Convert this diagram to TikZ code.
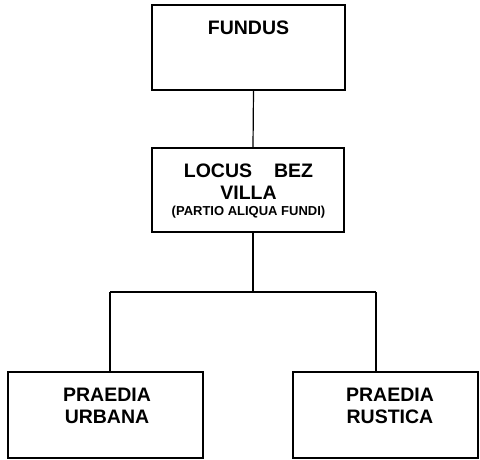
\documentclass[tikz,border=0pt]{standalone}
\usepackage{fontspec}
\setmainfont{Liberation Sans}
\usetikzlibrary{positioning}
\tikzset{
	box/.style={draw, line width=1.2pt, inner sep=0pt},
	lbl/.style={font=\fontsize{19.5}{22}\selectfont\bfseries, align=center, inner sep=0pt}
}
\begin{document}
\begin{tikzpicture}[x=1pt,y=1pt]
	\useasboundingbox (0,0) rectangle (480,-459);
	% boxes
	\node[box, minimum width=193pt, minimum height=85pt] (fundus) at (248.5,-47.5) {};
	\node[box, minimum width=192pt, minimum height=84pt] (locus) at (248,-190) {};
	\node[box, minimum width=195pt, minimum height=86pt] (urbana) at (105.5,-415) {};
	\node[box, minimum width=185pt, minimum height=86pt] (rustica) at (385.5,-415) {};
	% texts
	\node[lbl, below=16.5pt of fundus.north] (fundustext) {FUNDUS};
	\node[lbl] (locustext) at (248.5,-191.5) {LOCUS\hspace{22pt}BEZ\\VILLA\\[-6pt]\fontsize{13}{13}\selectfont(PARTIO ALIQUA FUNDI)};
	\node[lbl, below=16.5pt of urbana.north, xshift=1.5pt] (urbanatext) {PRAEDIA\\URBANA};
	\node[lbl, below=16.5pt of rustica.north, xshift=4.5pt] (rusticatext) {PRAEDIA\\RUSTICA};
	% connectors
	\coordinate (split) at (253,-292);
	\coordinate (ul) at (110,-292);
	\coordinate (ur) at (376,-292);
	\draw[line width=1.2pt] ([xshift=5pt]fundus.south) -- ([xshift=5pt]locus.north);
	\draw[line width=1.2pt] ([xshift=5pt]locus.south) -- (split);
	\draw[line width=1.2pt] (ul) -- (ur);
	\draw[line width=1.2pt] (ul) -- (ul |- urbana.north);
	\draw[line width=1.2pt] (ur) -- (ur |- rustica.north);
\end{tikzpicture}
\end{document}
